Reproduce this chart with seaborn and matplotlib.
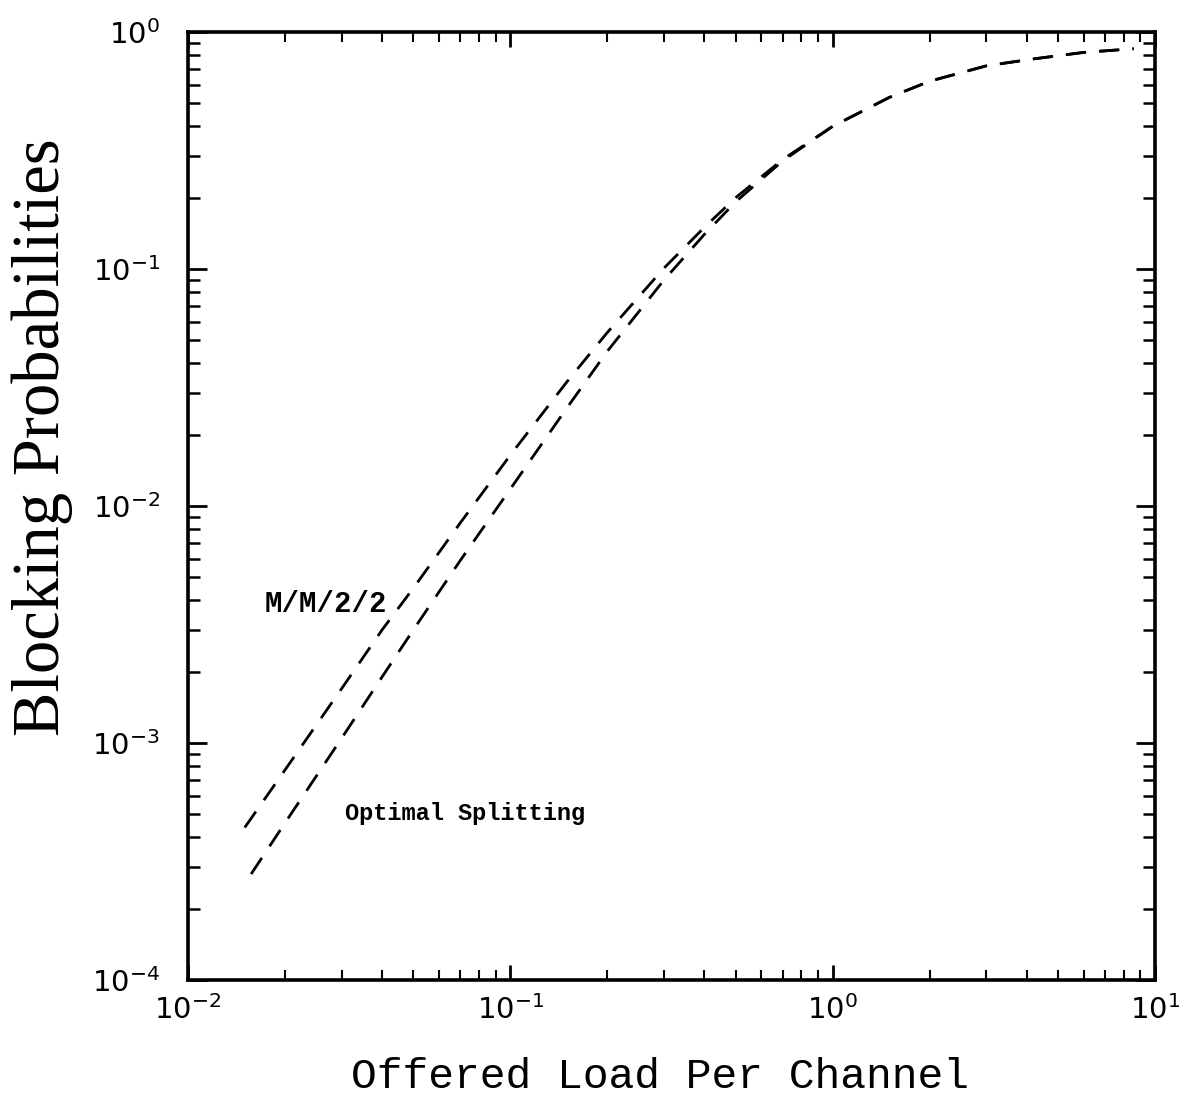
import matplotlib
matplotlib.use("Agg")
import matplotlib.pyplot as plt
import seaborn as sns
import pandas as pd
import numpy as np
from matplotlib.ticker import LogLocator, NullFormatter

# ---- data ----
load_mm22 = [0.015, 0.02, 0.03, 0.04, 0.05, 0.07, 0.1, 0.15, 0.2, 0.3, 0.4, 0.5,
             0.7, 1.0, 1.5, 2.0, 3.0, 4.2, 6.0, 8.6]
block_mm22 = [4.4e-4, 7.7e-4, 1.7e-3, 3.0e-3, 4.5e-3, 8.5e-3, 0.0164, 0.0335, 0.054,
              0.101, 0.15, 0.20, 0.29, 0.40, 0.53, 0.62, 0.72, 0.77, 0.82, 0.85]

load_opt = [0.0157, 0.02, 0.03, 0.04, 0.05, 0.07, 0.1, 0.15, 0.2, 0.3, 0.4, 0.5,
            0.7, 1.0, 1.5, 2.0, 3.0, 4.2, 6.0, 8.6]
block_opt = [2.8e-4, 4.6e-4, 1.05e-3, 1.9e-3, 3.0e-3, 5.9e-3, 0.0118, 0.026, 0.045,
             0.090, 0.14, 0.192, 0.286, 0.40, 0.53, 0.62, 0.72, 0.77, 0.82, 0.85]

series_names = ["M/M/2/2", "Optimal Splitting"]
x_label = "Offered Load Per Channel"
y_label = "Blocking Probabilities"

df = pd.concat([
    pd.DataFrame({"load": load_mm22, "block": block_mm22, "series": series_names[0]}),
    pd.DataFrame({"load": load_opt, "block": block_opt, "series": series_names[1]}),
], ignore_index=True)

sns.set_theme(style="ticks")
plt.rcParams["mathtext.fontset"] = "dejavusans"
plt.rcParams["text.color"] = "black"
plt.rcParams["axes.labelcolor"] = "black"
plt.rcParams["xtick.color"] = "black"
plt.rcParams["ytick.color"] = "black"

fig = plt.figure(figsize=(11.92, 11.11), dpi=100)
ax = fig.add_axes([0.1577, 0.1179, 0.8113, 0.8533])

for name in series_names:
    sub = df[df["series"] == name]
    sns.lineplot(data=sub, x="load", y="block", ax=ax, color="black",
                 linewidth=2.0, estimator=None, sort=False, legend=False,
                 dashes=False)
for line in ax.lines:
    line.set_dashes((7, 5))

ax.set_xscale("log")
ax.set_yscale("log")
ax.set_xlim(1e-2, 1e1)
ax.set_ylim(1e-4, 1e0)

for s in ax.spines.values():
    s.set_visible(True)
    s.set_linewidth(2.6)
    s.set_color("black")

ax.xaxis.set_major_locator(LogLocator(base=10, numticks=10))
ax.yaxis.set_major_locator(LogLocator(base=10, numticks=10))
ax.xaxis.set_minor_locator(LogLocator(base=10, subs=np.arange(2, 10), numticks=20))
ax.yaxis.set_minor_locator(LogLocator(base=10, subs=np.arange(2, 10), numticks=20))
ax.xaxis.set_minor_formatter(NullFormatter())
ax.yaxis.set_minor_formatter(NullFormatter())

ax.tick_params(axis="both", which="both", direction="in", top=True, right=True,
               colors="black", labelcolor="black", labelsize=21)
ax.tick_params(axis="y", which="major", length=14, width=2.0, pad=20)
ax.tick_params(axis="y", which="minor", length=8.5, width=1.8)
ax.tick_params(axis="x", which="major", length=11, width=2.0, pad=11)
ax.tick_params(axis="x", which="minor", length=7, width=1.5)

ax.set_xlabel(x_label, fontsize=31, color="black",
              family=["Liberation Mono", "DejaVu Sans Mono"])
ax.set_ylabel(y_label, fontsize=48, color="black",
              family=["Liberation Serif", "DejaVu Serif"])
ax.xaxis.set_label_coords(0.488, -0.081)
ax.yaxis.set_label_coords(-0.119, 0.573)
ax.xaxis.label.set_va("top")

ax.text(0.01734, 3.85e-3, series_names[0], fontsize=21, ha="left", va="center",
        color="black", fontweight="bold",
        family=["Liberation Mono", "DejaVu Sans Mono"])
ax.text(0.0307, 5.03e-4, series_names[1], fontsize=17, ha="left", va="center",
        color="black", fontweight="bold",
        family=["Liberation Mono", "DejaVu Sans Mono"])

fig.savefig("out.png", dpi=100, facecolor="white")
